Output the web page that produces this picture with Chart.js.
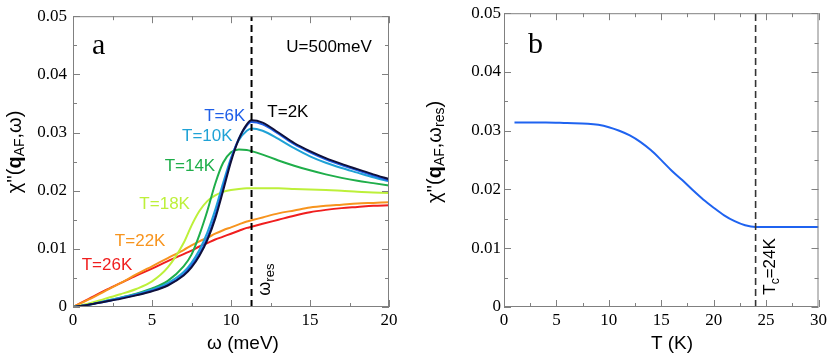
<!DOCTYPE html>
<html>
<head>
<meta charset="utf-8">
<script src="https://cdn.jsdelivr.net/npm/chart.js@4.4.1/dist/chart.umd.min.js"></script>
<style>
  html, body { margin: 0; padding: 0; background: #fff; }
  #wrap { position: relative; width: 830px; height: 358px; }
  .pane { position: absolute; top: 0; width: 415px; height: 358px; }
</style>
</head>
<body>
<div id="wrap">
  <div class="pane" style="left:0"><canvas id="chartA"></canvas></div>
  <div class="pane" style="left:415px"><canvas id="chartB"></canvas></div>
</div>
<script>
/* -----------data (panel a)------------- */
const omega  = [0, 1, 2, 3, 4, 5, 6, 7, 7.5, 8, 8.5, 9, 9.5, 10, 10.5, 11, 11.3, 12, 13, 14, 15, 16, 17, 18, 19, 20];
const chi2K  = [0, 0.0004, 0.0009, 0.0014, 0.0020, 0.0027, 0.0037, 0.0054, 0.0068, 0.0088, 0.0115, 0.0152, 0.0200, 0.0250, 0.0289, 0.0314, 0.0321, 0.0317, 0.0300, 0.0282, 0.0268, 0.0256, 0.0246, 0.0237, 0.0228, 0.0220];
const chi6K  = [0, 0.0004, 0.0009, 0.0015, 0.0021, 0.0028, 0.0038, 0.0056, 0.0071, 0.0091, 0.0119, 0.0157, 0.0205, 0.0254, 0.0290, 0.0312, 0.0318, 0.0314, 0.0298, 0.0280, 0.0266, 0.0254, 0.0244, 0.0235, 0.0226, 0.0218];
const chi10K = [0, 0.0004, 0.0010, 0.0016, 0.0022, 0.0030, 0.0041, 0.0060, 0.0076, 0.0098, 0.0128, 0.0167, 0.0213, 0.0256, 0.0287, 0.0303, 0.0307, 0.0303, 0.0289, 0.0273, 0.0259, 0.0248, 0.0239, 0.0231, 0.0223, 0.0216];
const chi14K = [0, 0.0004, 0.0010, 0.0016, 0.0023, 0.0032, 0.0045, 0.0070, 0.0090, 0.0124, 0.0165, 0.0212, 0.0248, 0.0266, 0.0271, 0.0270, 0.0268, 0.0262, 0.0252, 0.0243, 0.0235, 0.0228, 0.0222, 0.0217, 0.0213, 0.0209];
const chi18K = [0, 0.0006, 0.0014, 0.0022, 0.0031, 0.0044, 0.0068, 0.0110, 0.0140, 0.0165, 0.0182, 0.0192, 0.0198, 0.0201, 0.0203, 0.0204, 0.0204, 0.0204, 0.0204, 0.0203, 0.0202, 0.0201, 0.0200, 0.0198, 0.0197, 0.0196];
const chi22K = [0, 0.0013, 0.0027, 0.0041, 0.0056, 0.0070, 0.0084, 0.0098, 0.0106, 0.0113, 0.0119, 0.0126, 0.0132, 0.0137, 0.0142, 0.0147, 0.0149, 0.0154, 0.0161, 0.0166, 0.0171, 0.0174, 0.0176, 0.0178, 0.0179, 0.0180];
const chi26K = [0, 0.0014, 0.0028, 0.0041, 0.0054, 0.0066, 0.0079, 0.0091, 0.0097, 0.0104, 0.0110, 0.0116, 0.0121, 0.0126, 0.0131, 0.0136, 0.0138, 0.0143, 0.0150, 0.0157, 0.0163, 0.0167, 0.0170, 0.0172, 0.0174, 0.0175];
const omegaRes = 11.3;

/* -----------data (panel b)------------- */
const temps  = [1, 2, 4, 6, 8, 9, 10, 11, 12, 13, 14, 15, 16, 17, 18, 19, 20, 21, 22, 23, 24, 25, 26, 27, 28, 29, 30];
const chiRes = [0.0314, 0.0314, 0.0314, 0.0313, 0.0312, 0.0310, 0.0306, 0.0300, 0.0292, 0.0281, 0.0267, 0.0250, 0.0232, 0.0216, 0.0199, 0.0183, 0.0169, 0.0156, 0.0146, 0.0139, 0.0136, 0.0136, 0.0136, 0.0136, 0.0136, 0.0136, 0.0136];
const tc = 24;

const xTicksA = [0, 20, 5];
const xTicksB = [0, 30, 5];
const yTicks  = [0, 0.05, 0.01];

/* -----------helpers-------------- */
const SANS = "'Liberation Sans', Arial, sans-serif";
const SERIF = "'Liberation Serif', 'Times New Roman', serif";

function pts(xs, ys) {
  return xs.map((v, i) => ({ x: v, y: ys[i] }));
}

function curve(data, color, width) {
  return {
    data: data,
    borderColor: color,
    borderWidth: width || 2,
    pointRadius: 0,
    showLine: true,
    fill: false,
    cubicInterpolationMode: 'monotone'
  };
}

function vline(v, color, width) {
  return {
    data: [{ x: v, y: 0 }, { x: v, y: 0.05 }],
    borderColor: color,
    borderWidth: width,
    borderDash: [7, 4],
    pointRadius: 0,
    showLine: true,
    fill: false
  };
}

// draws text made of several parts (plain / bold / subscript)
function drawRich(ctx, parts, px, py, align, rotate) {
  ctx.save();
  ctx.translate(px, py);
  if (rotate) ctx.rotate(rotate);
  ctx.textBaseline = 'middle';
  ctx.textAlign = 'left';
  let w = 0;
  parts.forEach(p => { ctx.font = p.f; w += ctx.measureText(p.t).width; });
  let cx = align === 'center' ? -w / 2 : align === 'right' ? -w : 0;
  parts.forEach(p => {
    ctx.font = p.f;
    ctx.fillStyle = p.c || '#000';
    ctx.fillText(p.t, cx, p.dy || 0);
    cx += ctx.measureText(p.t).width;
  });
  ctx.restore();
}

/* -----------plugins-------------- */
const frame = {
  id: 'frame',
  afterDatasetsDraw(chart, args, opts) {
    const { ctx, chartArea: a, scales: { x, y } } = chart;
    ctx.save();
    ctx.strokeStyle = '#808080';
    ctx.lineWidth = 1;
    ctx.strokeRect(a.left + 0.5, a.top + 0.5, a.right - a.left - 1, a.bottom - a.top - 1);
    ctx.beginPath();
    for (let v = x.min; v <= x.max + 1e-9; v += opts.xMinor) {
      const px = Math.round(x.getPixelForValue(v)) + 0.5;
      const r = v / opts.xMajor;
      const len = Math.abs(r - Math.round(r)) < 1e-6 ? 7 : 4;
      ctx.moveTo(px, a.bottom); ctx.lineTo(px, a.bottom - len);
      ctx.moveTo(px, a.top); ctx.lineTo(px, a.top + len);
    }
    for (let v = y.min; v <= y.max + 1e-9; v += opts.yMinor) {
      const py = Math.round(y.getPixelForValue(v)) + 0.5;
      const r = v / opts.yMajor;
      const len = Math.abs(r - Math.round(r)) < 1e-6 ? 7 : 4;
      ctx.moveTo(a.left, py); ctx.lineTo(a.left + len, py);
      ctx.moveTo(a.right, py); ctx.lineTo(a.right - len, py);
    }
    ctx.stroke();
    ctx.restore();
  }
};

const notes = {
  id: 'notes',
  afterDraw(chart, args, opts) {
    const { ctx, scales: { x, y } } = chart;
    (opts.items || []).forEach(n => {
      const px = n.px != null ? n.px : x.getPixelForValue(n.x);
      const py = n.py != null ? n.py : y.getPixelForValue(n.y);
      drawRich(ctx, n.parts, px, py, n.align, n.rotate);
    });
  }
};

function txt(t, c, size, style) {
  return { t: t, c: c, f: (style || '') + ' ' + size + 'px ' + SANS };
}
function sub(t, c, size) {
  return { t: t, c: c, f: size + 'px ' + SANS, dy: 5 };
}

function axisOpts(range, pad, width, height) {
  return {
    type: 'linear',
    min: range[0],
    max: range[1],
    grid: { display: false, drawTicks: false, tickLength: 0 },
    border: { display: false },
    ticks: {
      stepSize: range[2],
      color: '#000',
      padding: pad,
      maxRotation: 0,
      font: { family: SERIF, size: 17 }
    },
    afterFit(scale) {
      if (width != null) scale.width = width;
      if (height != null) scale.height = height;
    }
  };
}

function baseOptions(xRange, yWidth, yPad, padRight, items) {
  return {
    responsive: true,
    maintainAspectRatio: false,
    animation: false,
    layout: { padding: { top: 10, right: padRight, left: 0, bottom: 0 } },
    plugins: {
      legend: { display: false },
      tooltip: { enabled: false },
      frame: { xMinor: xRange[2] / 2, xMajor: xRange[2], yMinor: 0.005, yMajor: 0.01 },
      notes: { items: items }
    },
    scales: {
      x: axisOpts(xRange, 3, null, 51),
      y: axisOpts(yTicks, yPad, yWidth, null)
    }
  };
}

/* -----------panel a-------------- */
const itemsA = [
  { px: 15, py: 152, rotate: -Math.PI / 2, align: 'center',
    parts: [txt("χ''(", '#000', 20), txt('q', '#000', 20, 'bold'), sub('AF', '#000', 14), txt(',ω)', '#000', 20)] },
  { px: 243, py: 344, align: 'center', parts: [txt('ω (meV)', '#000', 19)] },
  { x: 1.2, y: 0.0448, align: 'left', parts: [{ t: 'a', c: '#000', f: '30px ' + SERIF }] },
  { x: 13.5, y: 0.0446, align: 'left', parts: [txt('U=500meV', '#000', 17)] },
  { x: 12.3, y: 0.0335, align: 'left', parts: [txt('T=2K', '#000', 17)] },
  { x: 8.3, y: 0.0328, align: 'left', parts: [txt('T=6K', '#1f5fe8', 17)] },
  { x: 6.9, y: 0.0293, align: 'left', parts: [txt('T=10K', '#1fa2d6', 17)] },
  { x: 5.8, y: 0.0242, align: 'left', parts: [txt('T=14K', '#1fae4a', 17)] },
  { x: 4.2, y: 0.0177, align: 'left', parts: [txt('T=18K', '#bdf03a', 17)] },
  { x: 2.65, y: 0.0113, align: 'left', parts: [txt('T=22K', '#f7941e', 17)] },
  { x: 0.55, y: 0.0072, align: 'left', parts: [txt('T=26K', '#f01e1e', 17)] },
  { x: 12.15, y: 0.0047, align: 'center', rotate: -Math.PI / 2,
    parts: [txt('ω', '#000', 18), sub('res', '#000', 13)] }
];

new Chart(document.getElementById('chartA'), {
  type: 'scatter',
  data: {
    datasets: [
      vline(omegaRes, '#000', 2),
      curve(pts(omega, chi2K), '#10103a'),
      curve(pts(omega, chi6K), '#1f5fe8'),
      curve(pts(omega, chi10K), '#1fa2d6'),
      curve(pts(omega, chi14K), '#1fae4a'),
      curve(pts(omega, chi18K), '#bdf03a'),
      curve(pts(omega, chi22K), '#f7941e'),
      curve(pts(omega, chi26K), '#f01e1e')
    ]
  },
  options: baseOptions(xTicksA, 73, 6, 26, itemsA),
  plugins: [frame, notes]
});

/* -----------panel b-------------- */
const itemsB = [
  { px: 20, py: 152, rotate: -Math.PI / 2, align: 'center',
    parts: [txt("χ''(", '#000', 20), txt('q', '#000', 20, 'bold'), sub('AF', '#000', 14),
            txt(',ω', '#000', 20), sub('res', '#000', 14), txt(')', '#000', 20)] },
  { px: 257, py: 344, align: 'center', parts: [txt('T (K)', '#000', 19)] },
  { x: 2.3, y: 0.0445, align: 'left', parts: [{ t: 'b', c: '#000', f: '30px ' + SERIF }] },
  { x: 25.4, y: 0.0069, align: 'center', rotate: -Math.PI / 2,
    parts: [txt('T', '#000', 17), sub('c', '#000', 12), txt('=24K', '#000', 17)] }
];

new Chart(document.getElementById('chartB'), {
  type: 'scatter',
  data: {
    datasets: [
      vline(tc, '#333', 1.6),
      curve(pts(temps, chiRes), '#1f63f0')
    ]
  },
  options: baseOptions(xTicksB, 89, 3, 10, itemsB),
  plugins: [frame, notes]
});
</script>
</body>
</html>
